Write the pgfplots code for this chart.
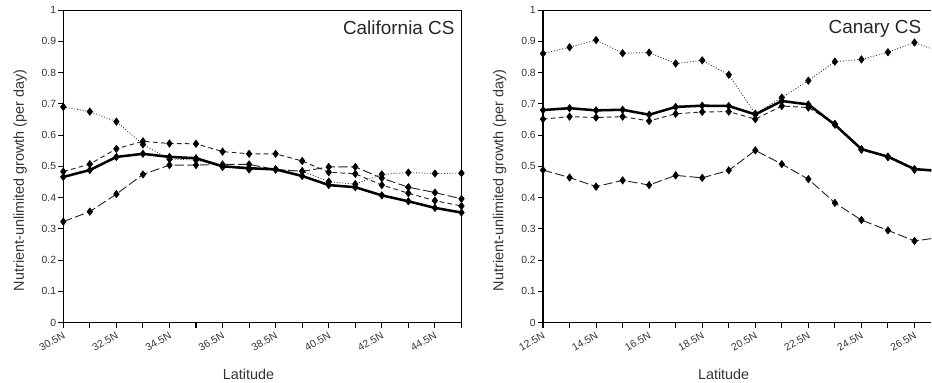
\documentclass[border=0pt]{standalone}
\usepackage{pgfplots}
\usepackage{pgfplotstable}
\pgfplotsset{compat=1.18}
\usepackage{fontspec}
\setmainfont{Liberation Sans}

\pgfplotstableread{
i s dot sd ld
0 0.466 0.690 0.483 0.323
1 0.488 0.675 0.507 0.355
2 0.530 0.643 0.556 0.411
3 0.540 0.570 0.580 0.474
4 0.530 0.523 0.573 0.504
5 0.526 0.520 0.572 0.504
6 0.500 0.498 0.547 0.506
7 0.494 0.490 0.540 0.506
8 0.490 0.490 0.540 0.490
9 0.469 0.484 0.517 0.484
10 0.440 0.451 0.481 0.498
11 0.433 0.443 0.476 0.498
12 0.407 0.474 0.440 0.462
13 0.388 0.480 0.414 0.433
14 0.367 0.477 0.390 0.416
15 0.352 0.478 0.373 0.396
}\califdata

\pgfplotstableread{
i s dot sd ld
0 0.680 0.861 0.651 0.488
1 0.686 0.881 0.659 0.464
2 0.679 0.904 0.656 0.435
3 0.681 0.862 0.659 0.455
4 0.665 0.864 0.645 0.440
5 0.690 0.829 0.668 0.471
6 0.694 0.839 0.674 0.463
7 0.693 0.793 0.675 0.487
8 0.666 0.668 0.651 0.551
9 0.709 0.720 0.693 0.507
10 0.698 0.774 0.688 0.459
11 0.633 0.835 0.636 0.383
12 0.555 0.842 0.553 0.328
13 0.531 0.865 0.529 0.295
14 0.491 0.896 0.489 0.261
15 0.485 0.865 0.483 0.273
}\canarydata

\pgfplotsset{
  panel/.style={
    scale only axis, height=234.5pt,
    ymin=0, ymax=1, ytick={0,0.1,0.2,0.3,0.4,0.5,0.6,0.7,0.8,0.9,1},
    xmin=0,
    axis line style={line width=0.8pt, black},
    tick style={line width=0.8pt, black},
    tick align=outside, major tick length=3.75pt, minor tick length=3.75pt,
    xtick pos=left, ytick pos=left,
    /pgf/number format/assume math mode=true,
    /pgf/number format/fixed,
    /pgf/number format/precision=1,
    yticklabel style={font=\fontsize{7.8}{9}\selectfont, text=black!80, inner sep=1.5pt},
    xticklabel style={font=\fontsize{7.8}{9}\selectfont, text=black!80, rotate=30, anchor=north east, inner sep=2pt},
    xlabel={Latitude},
    ylabel={Nutrient-unlimited growth (per day)},
    xlabel style={font=\fontsize{10.8}{12}\selectfont, text=black!80, at={(rel axis cs:0.465,0)}, anchor=north, inner sep=0pt, yshift=-34.5pt},
    ylabel style={font=\fontsize{10.8}{12}\selectfont, text=black!80, anchor=north, inner sep=0pt},
  },
  sser/.style={black, line width=1.9pt, mark=diamond*, mark size=2.8pt, mark options={solid, line width=0.4pt}},
  dotser/.style={black!85, line width=0.6pt, dash pattern=on 0.7pt off 1.4pt, mark=diamond*, mark size=2.8pt, mark options={solid, black, line width=0.4pt}},
  sdser/.style={black!85, line width=0.7pt, dash pattern=on 3.5pt off 2.5pt, mark=diamond*, mark size=2.8pt, mark options={solid, black, line width=0.4pt}},
  ldser/.style={black!85, line width=0.7pt, dash pattern=on 7pt off 2.5pt, mark=diamond*, mark size=2.8pt, mark options={solid, black, line width=0.4pt}},
}

\begin{document}
\begin{tikzpicture}
\path (0,0) rectangle (699pt,287.25pt);
\begin{axis}[panel, at={(47.5pt,45.2pt)}, anchor=south west,
  width=298.8pt, xmax=15, xtick={0,2,...,14}, minor xtick={1,3,...,15}, clip=false,
  ylabel style={at={(rel axis cs:0,0.455)}, yshift=37.7pt},
  xticklabels={30.5N,32.5N,34.5N,36.5N,38.5N,40.5N,42.5N,44.5N}]
\addplot[ldser] table[x=i,y=ld]{\califdata};
\addplot[sdser] table[x=i,y=sd]{\califdata};
\addplot[dotser] table[x=i,y=dot]{\califdata};
\addplot[sser] table[x=i,y=s]{\califdata};
\node[anchor=north east, inner sep=0pt, font=\fontsize{14.2}{16}\selectfont, text=black!85, xshift=-5pt, yshift=-7.5pt] at (rel axis cs:1,1) {California CS};
\end{axis}
\begin{axis}[panel, at={(407.5pt,45.2pt)}, anchor=south west,
  width=291.5pt, xmax=14.64, xtick={0,2,...,14}, minor xtick={1,3,...,13}, clip=true,
  axis x line*=box, axis y line*=left,
  ylabel style={at={(rel axis cs:0,0.455)}, yshift=37.7pt},
  xticklabels={12.5N,14.5N,16.5N,18.5N,20.5N,22.5N,24.5N,26.5N}]
\addplot[ldser] table[x=i,y=ld]{\canarydata};
\addplot[sdser] table[x=i,y=sd]{\canarydata};
\addplot[dotser] table[x=i,y=dot]{\canarydata};
\addplot[sser] table[x=i,y=s]{\canarydata};
\node[anchor=north east, inner sep=0pt, font=\fontsize{14.2}{16}\selectfont, text=black!85, xshift=-7.5pt, yshift=-7.5pt] at (rel axis cs:1,1) {Canary CS};
\end{axis}
\end{tikzpicture}
\end{document}
